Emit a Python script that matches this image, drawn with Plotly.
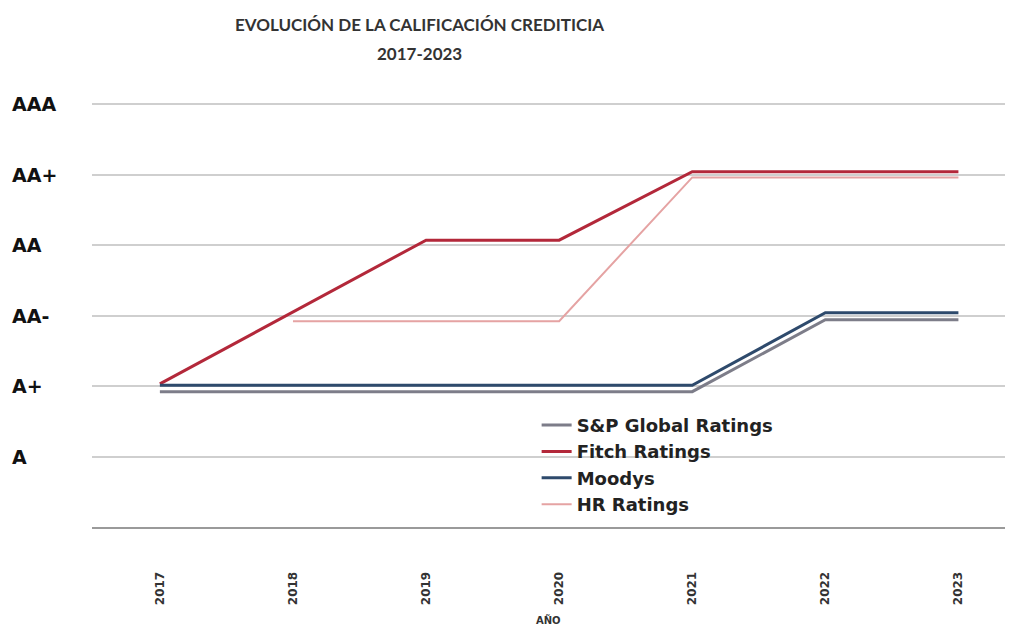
import plotly.graph_objects as go

# Data
years = [2017, 2018, 2019, 2020, 2021, 2022, 2023]
sp_global = [1.92, 1.92, 1.92, 1.92, 1.92, 2.94, 2.94]
fitch = [2.03, 3.05, 4.07, 4.07, 5.04, 5.04, 5.04]
moodys = [2.01, 2.01, 2.01, 2.01, 2.01, 3.04, 3.04]
hr_ratings = [None, 2.92, 2.92, 2.92, 4.96, 4.96, 4.96]

rating_levels = [1, 2, 3, 4, 5, 6]
rating_labels = ["A", "A+", "AA-", "AA", "AA+", "AAA"]

series = [
    ("S&P Global Ratings", sp_global, "#7d7d89", 3),
    ("Fitch Ratings", fitch, "#b3283a", 3),
    ("Moodys", moodys, "#2e4a6c", 3),
    ("HR Ratings", hr_ratings, "#e5a3a3", 2),
]

fig = go.Figure()
for name, vals, col, w in series:
    fig.add_trace(go.Scatter(x=years, y=vals, name=name, mode="lines",
                             line=dict(color=col, width=w)))

label_font = dict(family="DejaVu Sans", size=19, color="#111")

annotations = [
    dict(text="<b>EVOLUCIÓN DE LA CALIFICACIÓN CREDITICIA</b>", xref="paper", yref="paper",
         x=0.359, y=1.15, xanchor="center", yanchor="middle", showarrow=False,
         font=dict(family="Lato", size=17, color="#333")),
    dict(text="<b>2017-2023</b>", xref="paper", yref="paper",
         x=0.359, y=1.083, xanchor="center", yanchor="middle", showarrow=False,
         font=dict(family="Lato", size=17, color="#333")),
    dict(text="<b>AÑO</b>", xref="paper", yref="paper",
         x=0.5, y=-0.212, xanchor="center", yanchor="middle", showarrow=False,
         font=dict(family="DejaVu Sans", size=10, color="#333")),
]
# y labels are left aligned in the reference, so place them as annotations on the y scale
for lvl, lab in zip(rating_levels, rating_labels):
    annotations.append(dict(text="<b>" + lab + "</b>", xref="paper", yref="y",
                            x=-0.09, y=lvl, xanchor="left", yanchor="middle",
                            showarrow=False, font=label_font))

# page body adds an 8px offset, so the figure is a bit smaller than the window
fig.update_layout(
    width=1006, height=623,
    plot_bgcolor="#fff", paper_bgcolor="#fff",
    margin=dict(l=84, r=9, t=82, b=104),
    showlegend=True,
    legend=dict(x=0.487, y=0.275, xanchor="left", yanchor="top",
                bgcolor="rgba(0,0,0,0)", tracegroupgap=0,
                font=dict(family="DejaVu Sans", size=18, color="#222", weight="bold"),
                traceorder="normal"),
    annotations=annotations,
    xaxis=dict(range=[2016.49, 2023.35], tickvals=years, ticktext=["<b>%d</b>" % y for y in years],
               tickangle=-90, showgrid=False, zeroline=False, ticks="",
               showline=True, linecolor="#9a9a9a", linewidth=2,
               ticklabelstandoff=38,
               tickfont=dict(family="DejaVu Sans", size=12, color="#333")),
    yaxis=dict(range=[0, 6.2], tickvals=rating_levels, showticklabels=False,
               showgrid=True, gridcolor="#cfcfcf", gridwidth=1.5, zeroline=False),
)

fig.write_html("out.html")
